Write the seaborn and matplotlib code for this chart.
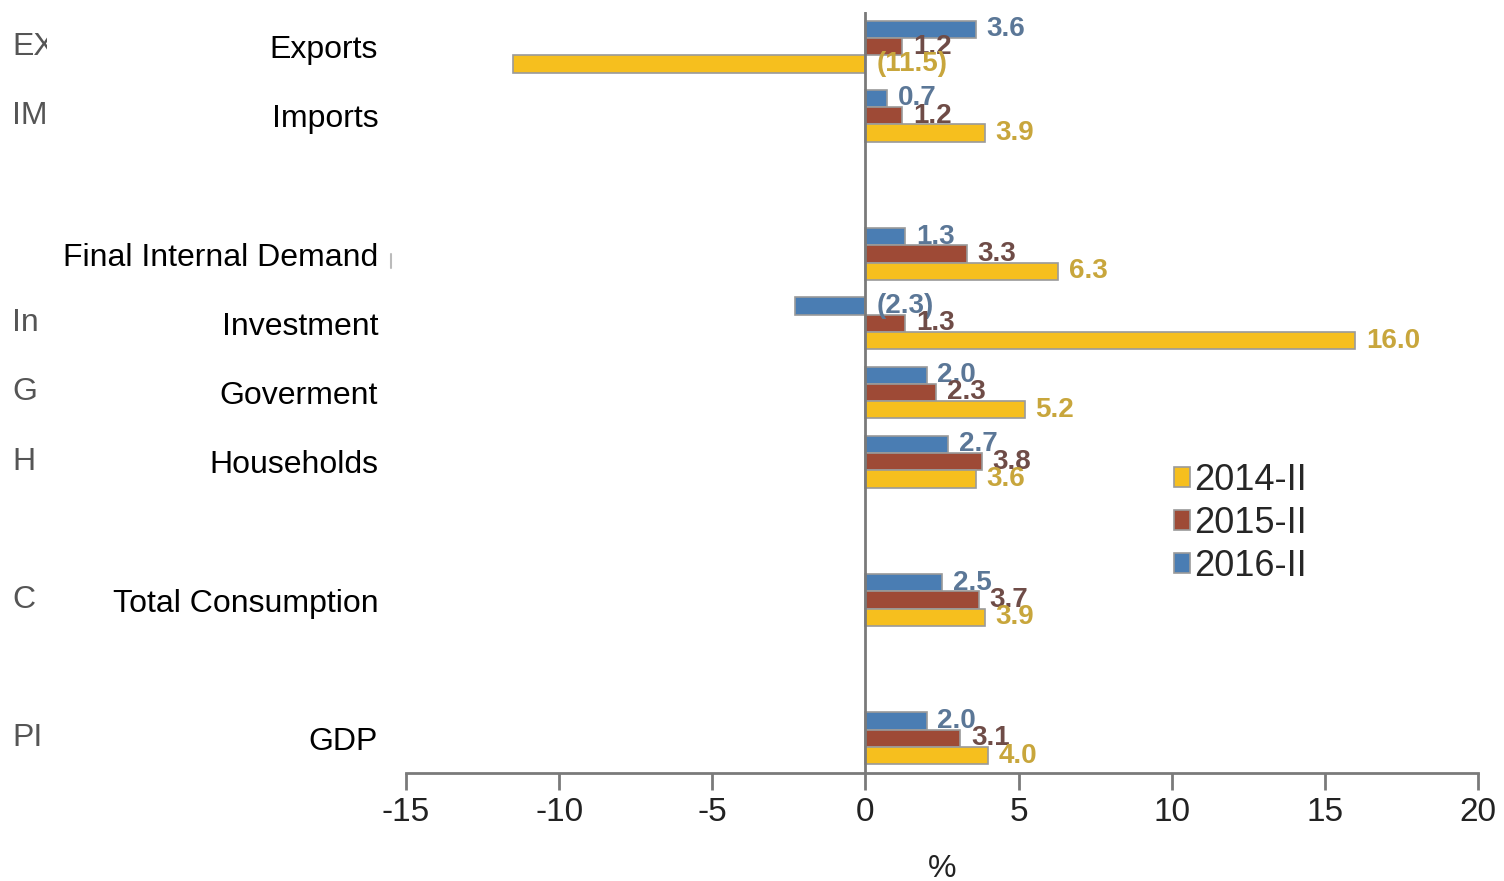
import numpy as np
import pandas as pd
import matplotlib
matplotlib.use("Agg")
import matplotlib.pyplot as plt
import seaborn as sns
from matplotlib.patches import Rectangle
from matplotlib.lines import Line2D

# ---- data ----
categories = ["Exports", "Imports", "Final Internal Demand", "Investment",
              "Goverment", "Households", "Total Consumption", "GDP"]
order = ["Exports", "Imports", " ", "Final Internal Demand", "Investment",
         "Goverment", "Households", "  ", "Total Consumption", "   ", "GDP"]
periods = ["2014-II", "2015-II", "2016-II"]
v2014 = [-11.5, 3.9, 6.3, 16.0, 5.2, 3.6, 3.9, 4.0]
v2015 = [1.2, 1.2, 3.3, 1.3, 2.3, 3.8, 3.7, 3.1]
v2016 = [3.6, 0.7, 1.3, -2.3, 2.0, 2.7, 2.5, 2.0]
xticks = [-15, -10, -5, 0, 5, 10, 15, 20]
old_labels = ["EX", "IM", "In", "G", "H", "C", "PI"]
old_label_rows = [0, 1, 4, 5, 6, 8, 10]

bar_colors = {"2014-II": "#F6BF1E", "2015-II": "#9E4A36", "2016-II": "#4A7DB3"}
text_colors = {"2014-II": "#C8A63C", "2015-II": "#6F4C47", "2016-II": "#5B7797"}

rows = []
for p, vals in zip(periods, [v2014, v2015, v2016]):
    for c, v in zip(categories, vals):
        rows.append({"category": c, "value": v, "period": p})
df = pd.DataFrame(rows)

sns.set_style("white")
plt.rcParams["font.family"] = ["Liberation Sans", "DejaVu Sans"]
plt.rcParams["axes.unicode_minus"] = False

W, H = 1504, 881
fig = plt.figure(figsize=(W / 100, H / 100), dpi=100)
ax = fig.add_axes([406 / W, 1 - 773 / H, (1478 - 406) / W, (773 - 12) / H])

hue_order = ["2016-II", "2015-II", "2014-II"]
sns.barplot(data=df, y="category", x="value", hue="period", order=order,
            hue_order=hue_order, palette=bar_colors, orient="h", width=0.75,
            saturation=1, edgecolor="#9a9a9a", linewidth=1.2, errorbar=None, ax=ax)

ax.set_xlim(-15, 20)
ax.set_ylim(10.5, -0.5)
ax.set_xticks(xticks)
ax.set_xticklabels([str(t) for t in xticks])
ax.axvline(0, color="#7a7a7a", lw=2, zorder=5)

for s in ["left", "top", "right"]:
    ax.spines[s].set_visible(False)
ax.spines["bottom"].set_color("#7a7a7a")
ax.spines["bottom"].set_linewidth(2)
ax.tick_params(axis="x", length=12, width=2, color="#7a7a7a", labelsize=24,
               pad=5, labelcolor="#222222", bottom=True)
ax.tick_params(axis="y", length=0, pad=20, labelsize=23, labelcolor="black")
ax.set_ylabel("")
ax.set_xlabel("%", fontsize=23, labelpad=19, color="#222222")

# value labels
for cont, p in zip(ax.containers, hue_order):
    for bar in cont:
        v = bar.get_width()
        if np.isnan(v):
            continue
        yc = bar.get_y() + bar.get_height() / 2
        txt = f"{v:.1f}" if v >= 0 else f"({abs(v):.1f})"
        ax.text(max(v, 0) + 0.35, yc, txt, ha="left", va="center",
                fontsize=20, fontweight="bold", color=text_colors[p], zorder=6)

# legend
handles, labels = ax.get_legend_handles_labels()
hmap = dict(zip(labels, handles))
ax.legend([hmap[p] for p in periods], periods, loc="upper left",
          bbox_to_anchor=(1174 / W, 1 - 463 / H), bbox_transform=fig.transFigure,
          frameon=False, fontsize=26, handlelength=0.45, handleheight=0.45,
          handletextpad=0.12, labelspacing=0.22, borderpad=0, borderaxespad=0)

# remnants of the original (covered) labels on the far left
for lab, r in zip(old_labels, old_label_rows):
    yfig = 1 - (12 + (r + 0.5) * (761 / 11)) / H
    fig.text(12 / W, yfig, lab, ha="left", va="center", fontsize=23,
             color="#555555", zorder=-2)
fig.add_artist(Rectangle((47 / W, 0), (398 - 47) / W, 1, transform=fig.transFigure,
                         facecolor="white", edgecolor="none", zorder=-1))
fig.add_artist(Line2D([391 / W, 391 / W], [1 - 254 / H, 1 - 268 / H],
                      color="#bbbbbb", lw=1.5, zorder=-0.5))

fig.savefig("out.png", dpi=100)
